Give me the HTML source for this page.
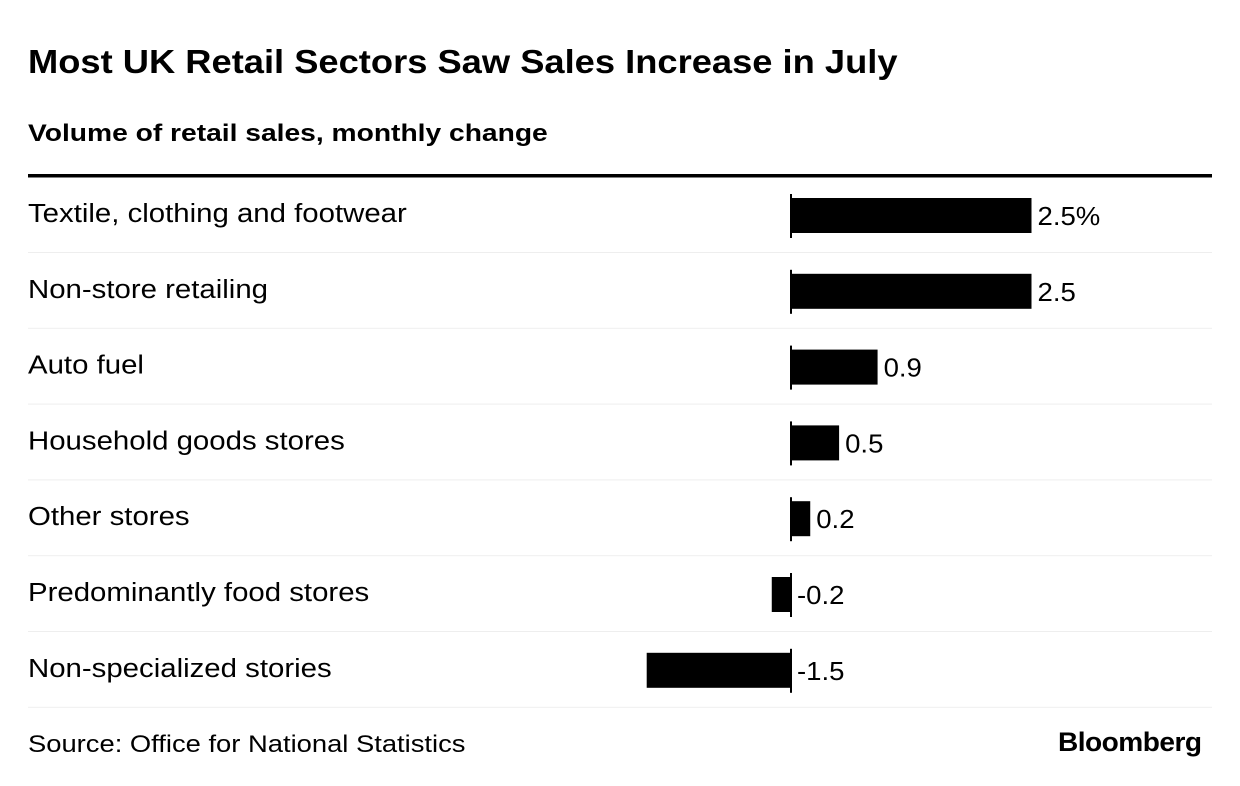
<!DOCTYPE html>
<html><head><meta charset="utf-8"><style>
body{margin:0;background:#fff;width:1240px;height:786px;overflow:hidden;font-family:"Liberation Sans",Arial,sans-serif;color:#000}
.t{position:absolute;white-space:nowrap;transform-origin:0 0}
</style></head><body>
<div class="t" style="left:28px;top:43px;font-size:33px;font-weight:bold;transform:scaleX(1.10)">Most UK Retail Sectors Saw Sales Increase in July</div>
<div class="t" style="left:28px;top:120px;font-size:24px;font-weight:bold;transform:scaleX(1.175)">Volume of retail sales, monthly change</div>
<svg id="c" width="1240" height="786" style="position:absolute;left:0;top:0"></svg>
<div class="t" style="left:28px;top:731px;font-size:24px;transform:scaleX(1.14)">Source: Office for National Statistics</div>
<div class="t" style="left:1058px;top:727px;font-size:27px;font-weight:bold;letter-spacing:-0.5px;transform:scaleX(1.04)">Bloomberg</div>
<script>
const categories=["Textile, clothing and footwear","Non-store retailing","Auto fuel","Household goods stores","Other stores","Predominantly food stores","Non-specialized stories"];
const values=[2.5,2.5,0.9,0.5,0.2,-0.2,-1.5];
const valueLabels=["2.5%","2.5","0.9","0.5","0.2","-0.2","-1.5"];
const svg=document.getElementById('c');const NS="http://www.w3.org/2000/svg";
const x0=791,scale=96.2,top0=178,pitch=75.8;
const xs=v=>x0+v*scale;
function mk(t,a){const e=document.createElementNS(NS,t);for(const k in a)e.setAttribute(k,a[k]);svg.appendChild(e);return e;}
const tl=mk('rect',{x:28,y:174,width:1184,height:3.5,fill:'#000'});


categories.forEach((c,i)=>{
 const y=top0+i*pitch;
 const lab=mk('text',{x:0,y:0,transform:`translate(28,${y+44}) scale(1.13,1)`,'font-size':26,'font-family':'Liberation Sans, Arial, sans-serif'});lab.textContent=c;
 
 
 const v=values[i];const a=xs(Math.min(0,v)),b=xs(Math.max(0,v));
 const bar=mk('rect',{x:a,y:y+20,width:b-a,height:35,fill:'#000'});
 
 
 const z=mk('rect',{x:x0-1,y:y+16,width:2,height:44,fill:'#000'});
 
 
 const lx=(v>=0?b:x0)+6;
 const vl=mk('text',{x:0,y:0,transform:`translate(${lx},${y+47}) scale(1.06,1)`,'font-size':26,'font-family':'Liberation Sans, Arial, sans-serif'});vl.textContent=valueLabels[i];
 
 
 const sep=mk('rect',{x:28,y:y+74,width:1184,height:1,fill:'#eeeeee'});
 
 
});
</script>
</body></html>
